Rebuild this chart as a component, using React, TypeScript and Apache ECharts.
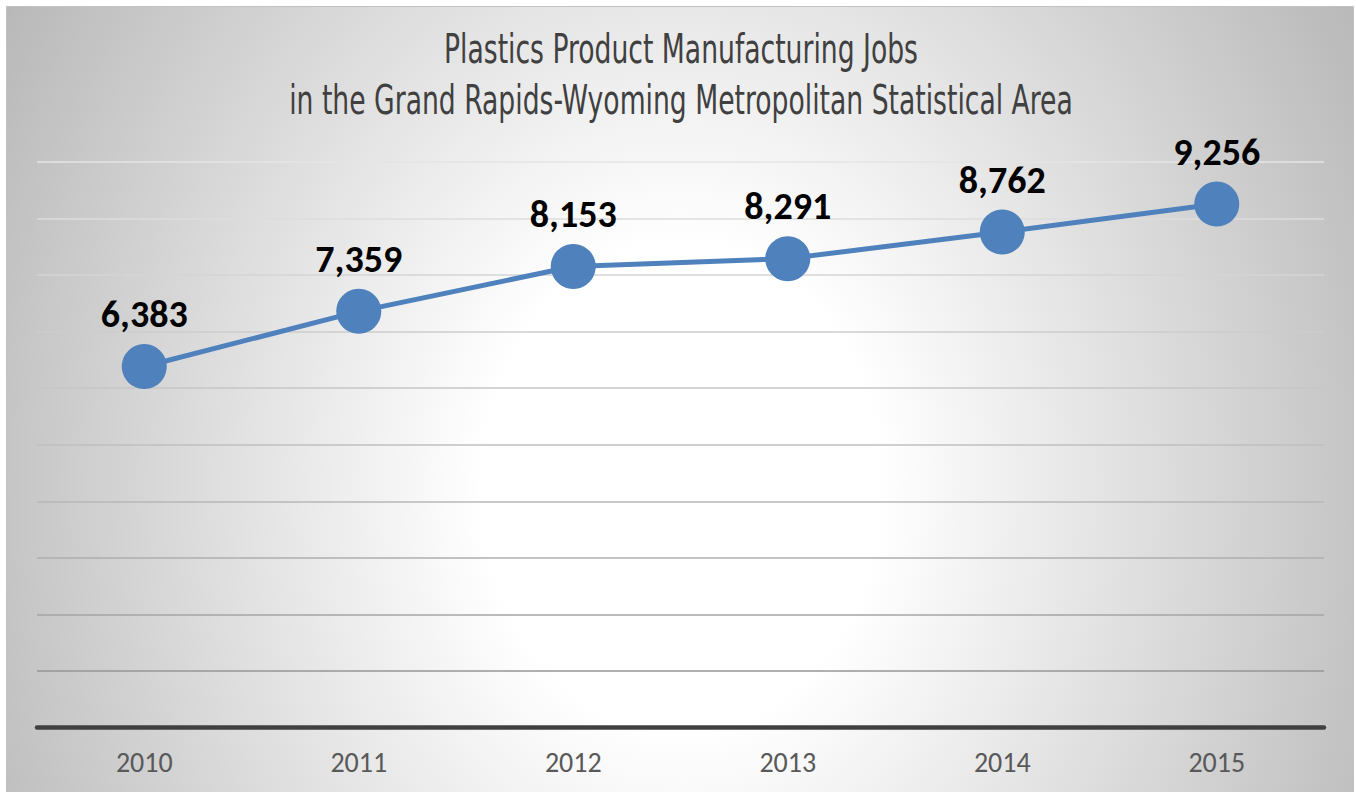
import React, { useEffect, useRef } from "react";
import * as echarts from "echarts";

const years = ["2010", "2011", "2012", "2013", "2014", "2015"];
const jobs = [6383, 7359, 8153, 8291, 8762, 9256];
const titleLines = [
  "Plastics Product Manufacturing Jobs",
  "in the Grand Rapids-Wyoming Metropolitan Statistical Area",
];
const gridColors = [
  "#8c8c8c", "#969696", "#a4a4a4", "#aeaeae", "#b7b7b7", "#bfbfbf",
  "#c6c6c6", "#cdcdcd", "#d4d4d4", "#dcdcdc", "#e5e5e5",
];

export default function App() {
  const ref = useRef<HTMLDivElement>(null);
  useEffect(() => {
    if (!ref.current) return;
    const chart = echarts.init(ref.current, null, { renderer: "svg" });
    const titleFont = "'Liberation Sans Narrow', 'DejaVu Sans Condensed', sans-serif";
    chart.setOption({
      animation: false,
      backgroundColor: "transparent",
      graphic: titleLines.map((t, i) => ({
        type: "text",
        x: 681,
        y: i === 0 ? 48.5 : 99.5,
        scaleY: 1.39,
        style: {
          text: t,
          fill: "#404040",
          font: `normal 29.6px ${titleFont}`,
          textAlign: "center",
          textVerticalAlign: "middle",
        },
      })),
      grid: { left: 37, right: 32, top: 162, bottom: 64.5, containLabel: false },
      xAxis: {
        type: "category",
        data: years,
        boundaryGap: true,
        axisLine: { show: true, lineStyle: { color: "#404040", width: 4.5 } },
        axisTick: { show: false },
        axisLabel: {
          color: "#595959",
          fontSize: 28,
          fontFamily: "Carlito, Lato, 'Open Sans', sans-serif",
          margin: 21,
        },
        splitLine: { show: false },
      },
      yAxis: {
        type: "value",
        min: 0,
        max: 10000,
        interval: 1000,
        axisLabel: { show: false },
        axisLine: { show: false },
        axisTick: { show: false },
        splitLine: { show: true, lineStyle: { color: gridColors, width: 1.5 } },
      },
      series: [
        {
          type: "line",
          data: jobs,
          symbol: "circle",
          symbolSize: 45,
          lineStyle: { color: "#4F81BD", width: 5 },
          itemStyle: { color: "#4F81BD" },
          label: {
            show: true,
            position: "top",
            distance: 11,
            color: "#000000",
            fontSize: 38,
            fontWeight: "bold",
            fontFamily: "Carlito, Lato, 'Open Sans', sans-serif",
            formatter: (p: any) => Number(p.value).toLocaleString("en-US"),
          },
        },
      ],
    });
    return () => chart.dispose();
  }, []);

  return (
    <div style={{ position: "fixed", left: 0, top: 0, width: 1356, height: 792, background: "#ffffff", overflow: "hidden" }}>
      <div
        style={{
          position: "absolute",
          left: 6,
          top: 6,
          width: 1346,
          height: 900,
          border: "1px solid #c2c2c2",
          background:
            "radial-gradient(ellipse 800px 981px at 674px 480px, #ffffff 0%, #ffffff 24.8%, #b6b6b6 100%)",
        }}
      />
      <div ref={ref} style={{ position: "absolute", left: 0, top: 0, width: 1356, height: 792 }} />
    </div>
  );
}
